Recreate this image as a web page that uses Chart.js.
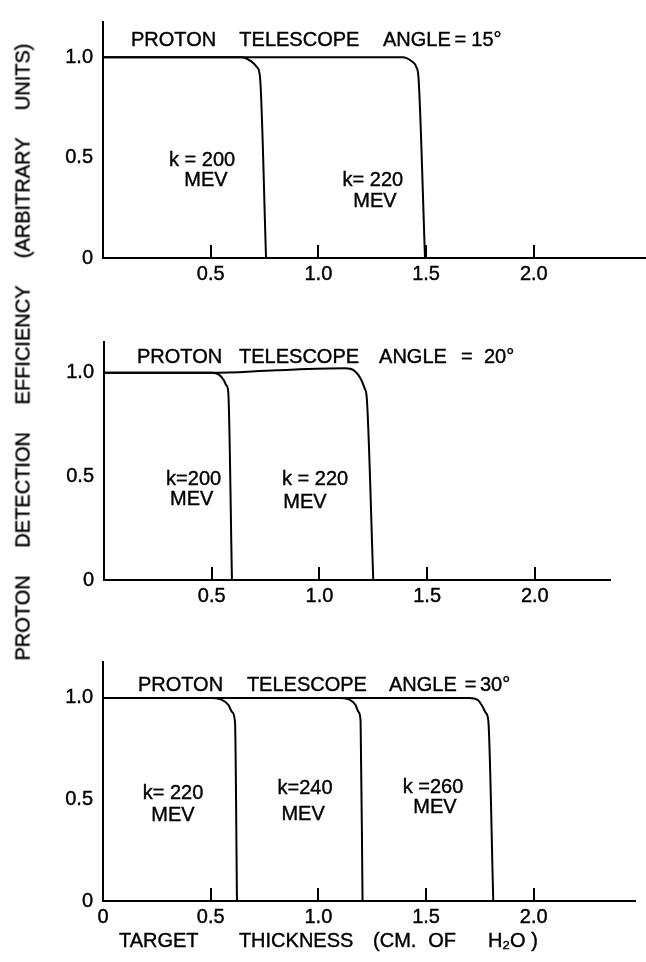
<!DOCTYPE html>
<html>
<head>
<meta charset="utf-8">
<script src="https://cdn.jsdelivr.net/npm/chart.js@4.4.1/dist/chart.umd.min.js"></script>
<style>
  html, body { margin: 0; padding: 0; background: #fff; }
  #wrap { position: relative; width: 646px; height: 962px; overflow: hidden; background: #fff; }
  #wrap canvas { position: absolute; left: 0; }
  #ytitle {
    position: absolute;
    left: -286.5px; top: 340.5px;
    width: 617px; height: 22px; line-height: 22px;
    font: 20px "Liberation Sans", Arial, sans-serif;
    -webkit-text-stroke: 0.4px #000;
    color: #000;
    text-align: justify; text-align-last: justify;
    transform: rotate(-90deg);
  }
</style>
</head>
<body>
<div id="wrap">
  <canvas id="p15" width="646" height="300" style="top:0px"></canvas>
  <canvas id="p20" width="646" height="300" style="top:320px"></canvas>
  <canvas id="p30" width="646" height="322" style="top:640px"></canvas>
  <div id="ytitle">PROTON DETECTION EFFICIENCY (ARBITRARY UNITS)</div>
</div>
<script>
// ---- tick values ----
const yTickValues = [0, 0.5, 1.0];
const xTickValuesUpper = [0.5, 1.0, 1.5, 2.0];
const xTickValuesLower = [0, 0.5, 1.0, 1.5, 2.0];

// ---- telescope angle 15 deg ----
const a15_k200_x = [0, 0.64, 0.69, 0.715, 0.729, 0.757];
const a15_k200_y = [1.0, 1.0, 0.978, 0.95, 0.90, 0];
const a15_k220_x = [0, 1.39, 1.435, 1.455, 1.465, 1.495];
const a15_k220_y = [1.0, 1.0, 0.978, 0.95, 0.895, 0];

// ---- telescope angle 20 deg ----
const a20_k200_x = [0, 0.50, 0.535, 0.556, 0.568, 0.577, 0.594];
const a20_k200_y = [1.0, 1.0, 0.99, 0.965, 0.94, 0.905, 0];
const a20_k220_x = [0, 0.50, 0.80, 1.12, 1.16, 1.19, 1.21, 1.22, 1.25];
const a20_k220_y = [1.0, 1.0, 1.013, 1.022, 1.012, 0.975, 0.925, 0.877, 0];

// ---- telescope angle 30 deg ----
const a30_k220_x = [0, 0.51, 0.55, 0.582, 0.60, 0.613, 0.622];
const a30_k220_y = [1.0, 1.0, 0.992, 0.966, 0.93, 0.88, 0];
const a30_k240_x = [0, 1.105, 1.145, 1.172, 1.187, 1.196, 1.205];
const a30_k240_y = [1.0, 1.0, 0.992, 0.966, 0.93, 0.885, 0];
const a30_k260_x = [0, 1.70, 1.74, 1.762, 1.778, 1.789, 1.812];
const a30_k260_y = [1.0, 1.0, 0.99, 0.958, 0.925, 0.887, 0];

const FAMILY = '"Liberation Sans", Arial, sans-serif';
const FONT = '20px ' + FAMILY;
const pts = (xs, ys) => xs.map((v, i) => ({ x: v, y: ys[i] }));

// inward x tick marks, headings and curve captions
const panelDecor = {
  id: 'panelDecor',
  afterDraw(chart, args, o) {
    const { ctx, chartArea, scales: { x, y } } = chart;
    ctx.save();
    ctx.strokeStyle = '#000';
    ctx.lineWidth = 2;
    o.tickMarks.forEach(v => {
      const px = Math.round(x.getPixelForValue(v));
      ctx.beginPath();
      ctx.moveTo(px, chartArea.bottom);
      ctx.lineTo(px, chartArea.bottom - o.tickLen);
      ctx.stroke();
    });
    ctx.fillStyle = '#000';
    ctx.font = FONT;
    ctx.lineWidth = 0.4;
    ctx.textBaseline = 'middle';
    const put = (t, px, py) => { ctx.fillText(t, px, py); ctx.strokeText(t, px, py); };
    ctx.textAlign = 'left';
    (o.words || []).forEach(w => put(w.t, x.getPixelForValue(w.x), y.getPixelForValue(w.y)));
    ctx.textAlign = 'center';
    (o.notes || []).forEach(n => put(n.t, x.getPixelForValue(n.x), y.getPixelForValue(n.y)));
    ctx.restore();
  }
};

function heading(angle, y, xs) {
  const t = ['PROTON', 'TELESCOPE', 'ANGLE', '=', angle];
  return t.map((s, i) => ({ t: s, x: xs[i], y: y }));
}

function makePanel(id, cfg) {
  const datasets = cfg.series.map(s => ({
    data: pts(s.x, s.y),
    borderColor: '#000',
    borderWidth: 2,
    pointRadius: 0,
    fill: false,
    cubicInterpolationMode: 'monotone',
    clip: false
  }));
  const tickFont = { family: FAMILY, size: 20 };
  new Chart(document.getElementById(id), {
    type: 'line',
    data: { datasets },
    options: {
      responsive: false,
      animation: false,
      devicePixelRatio: 1,
      events: [],
      layout: { padding: { top: cfg.padTop, left: 0, right: cfg.padRight, bottom: 0 } },
      plugins: {
        legend: { display: false },
        tooltip: { enabled: false },
        panelDecor: { tickMarks: xTickValuesUpper, tickLen: 13, words: cfg.words, notes: cfg.notes }
      },
      scales: {
        x: {
          type: 'linear', min: 0, max: cfg.xMax,
          grid: { display: false, drawTicks: false },
          border: { display: true, color: '#000', width: 2 },
          ticks: {
            color: '#000', font: tickFont, textStrokeColor: '#000', textStrokeWidth: 0.4,
            padding: 4, maxRotation: 0, autoSkip: false,
            callback: v => (v === 0 ? '0' : Number(v).toFixed(1))
          },
          afterBuildTicks: s => { s.ticks = cfg.xTicks.map(v => ({ value: v })); },
          afterFit: s => { s.height = cfg.xHeight; }
        },
        y: {
          type: 'linear', min: 0, max: cfg.yMax,
          grid: { display: false, drawTicks: false },
          border: { display: true, color: '#000', width: 2 },
          ticks: {
            color: '#000', font: tickFont, textStrokeColor: '#000', textStrokeWidth: 0.4,
            padding: 10,
            callback: v => (v === 0 ? '0' : Number(v).toFixed(1))
          },
          afterBuildTicks: s => { s.ticks = yTickValues.map(v => ({ value: v })); },
          afterFit: s => { s.width = cfg.yWidth; }
        }
      }
    },
    plugins: [panelDecor]
  });
}

makePanel('p15', {
  padTop: 5, padRight: 0, xHeight: 42, yWidth: 103, xMax: 2.521, yMax: 1.175,
  xTicks: xTickValuesUpper,
  series: [{ x: a15_k200_x, y: a15_k200_y }, { x: a15_k220_x, y: a15_k220_y }],
  words: heading('15°', 1.082, [0.13, 0.633, 1.30, 1.632, 1.71]),
  notes: [
    { t: 'k = 200', x: 0.46, y: 0.488 }, { t: 'MEV', x: 0.478, y: 0.386 },
    { t: 'k= 220', x: 1.253, y: 0.386 }, { t: 'MEV', x: 1.263, y: 0.283 }
  ]
});

makePanel('p20', {
  padTop: 16, padRight: 36, xHeight: 40, yWidth: 104, xMax: 2.349, yMax: 1.149,
  xTicks: xTickValuesUpper,
  series: [{ x: a20_k200_x, y: a20_k200_y }, { x: a20_k220_x, y: a20_k220_y }],
  words: heading('20°', 1.073, [0.153, 0.627, 1.277, 1.657, 1.764]),
  notes: [
    { t: 'k=200', x: 0.416, y: 0.484 }, { t: 'MEV', x: 0.407, y: 0.39 },
    { t: 'k = 220', x: 0.98, y: 0.484 }, { t: 'MEV', x: 0.933, y: 0.374 }
  ]
});

makePanel('p30', {
  padTop: 10, padRight: 11, xHeight: 61, yWidth: 103, xMax: 2.47, yMax: 1.177,
  xTicks: xTickValuesLower,
  series: [{ x: a30_k220_x, y: a30_k220_y }, { x: a30_k240_x, y: a30_k240_y }, { x: a30_k260_x, y: a30_k260_y }],
  words: heading('30°', 1.06, [0.162, 0.668, 1.328, 1.68, 1.75]).concat([
    { t: 'TARGET', x: 0.074, y: -0.198 }, { t: 'THICKNESS', x: 0.631, y: -0.198 },
    { t: '(CM.', x: 1.254, y: -0.198 }, { t: 'OF', x: 1.51, y: -0.198 },
    { t: 'H₂O )', x: 1.787, y: -0.198 }
  ]),
  notes: [
    { t: 'k= 220', x: 0.325, y: 0.528 }, { t: 'MEV', x: 0.325, y: 0.419 },
    { t: 'k=240', x: 0.938, y: 0.552 }, { t: 'MEV', x: 0.929, y: 0.427 },
    { t: 'k =260', x: 1.532, y: 0.559 }, { t: 'MEV', x: 1.541, y: 0.459 }
  ]
});
</script>
</body>
</html>
